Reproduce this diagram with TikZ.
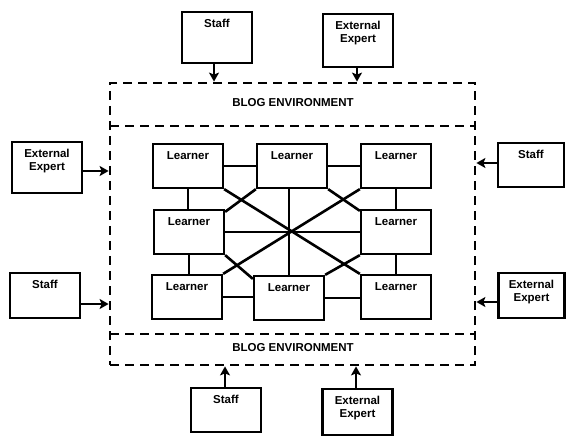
\documentclass[tikz,border=0pt]{standalone}
\usepackage{fontspec}
\setmainfont{Liberation Sans}
\usetikzlibrary{arrows.meta}
\tikzset{
  txt/.style={font=\fontsize{11.5}{13.5}\selectfont\bfseries, align=center, inner sep=0pt},
  actor/.style={draw, line width=2.2pt, rectangle, minimum width=70pt, minimum height=45pt, inner sep=0pt},
  learner/.style={draw, line width=2.3pt, rectangle, minimum width=70pt, minimum height=44pt, inner sep=0pt,
    label={[txt, anchor=north, yshift=-9pt]north:Learner}},
  inlbl/.style={txt, anchor=north, yshift=-8pt},
  link/.style={line width=2.6pt},
  feed/.style={line width=2.5pt, -{Stealth[length=9pt, width=10pt, inset=2pt]}},
  env/.style={draw, line width=2.8pt, dash pattern=on 9pt off 6pt},
}
\begin{document}
\begin{tikzpicture}[x=1pt, y=-1pt]
\useasboundingbox (0,0) rectangle (567,438);
% outer environment
\node[env, rectangle, minimum width=365pt, minimum height=282pt, inner sep=0pt] (outer) at (292.5,224) {};
\coordinate (tl) at (110,126); \coordinate (tr) at (475,126);
\coordinate (bl) at (110,334); \coordinate (br) at (475,334);
\draw[env] (tl) -- (tr);
\draw[env] (bl) -- (br);
\node[txt] (blogtop) at (293,103) {BLOG ENVIRONMENT};
\node[txt] (blogbot) at (293,348) {BLOG ENVIRONMENT};

% actors
\node[actor, minimum height=51pt] (tstaff) at (217,37.5) {};
\node[inlbl] (tstafft) at (tstaff.north) {Staff};
\node[actor, minimum height=53pt] (tee) at (358,40.5) {};
\node[inlbl] (teet) at (tee.north) {External\\Expert};
\node[actor, minimum height=51pt] (lee) at (47,167.5) {};
\node[inlbl] (leet) at (lee.north) {External\\Expert};
\node[actor] (lstaff) at (45,295.5) {};
\node[inlbl] (lstafft) at (lstaff.north) {Staff};
\node[actor, minimum width=66pt, minimum height=44pt] (rstaff) at (531,165) {};
\node[inlbl] (rstafft) at (rstaff.north) {Staff};
\node[actor, minimum width=66pt] (ree) at (531.5,295.5) {};
\node[inlbl] (reet) at (ree.north) {External\\Expert};
\node[actor, minimum height=44pt] (bstaff) at (226,410) {};
\node[inlbl] (bstafft) at (bstaff.north) {Staff};
\node[actor, minimum height=46pt] (bee) at (357.5,412) {};
\node[inlbl] (beet) at (bee.north) {External\\Expert};

% feeds
\coordinate (a1) at (214,63);  \draw[feed] (a1) -- (a1 |- outer.north);
\coordinate (a2) at (357,67);  \draw[feed] (a2) -- (a2 |- outer.north);
\coordinate (a3) at (82,171);  \draw[feed] (a3) -- (a3 -| outer.west);
\coordinate (a4) at (80,304);  \draw[feed] (a4) -- (a4 -| outer.west);
\coordinate (a5) at (498,163); \draw[feed] (a5) -- (a5 -| outer.east);
\coordinate (a6) at (498.5,302); \draw[feed] (a6) -- (a6 -| outer.east);
\coordinate (a7) at (225,388); \draw[feed] (a7) -- (a7 |- outer.south);
\coordinate (a8) at (356,389); \draw[feed] (a8) -- (a8 |- outer.south);

% learners
\node[learner] (l1) at (188,166) {};
\node[learner] (l2) at (292,166) {};
\node[learner] (l3) at (396,166) {};
\node[learner] (l4) at (189,232) {};
\node[learner] (l5) at (396,232) {};
\node[learner] (l6) at (187,297) {};
\node[learner] (l7) at (289,298) {};
\node[learner] (l8) at (396,297) {};

% links
\draw[link] (l1.east) -- (l2.west);
\draw[link] (l2.east) -- (l3.west);
\draw[link] (l1.south) -- (l1.south |- l4.north);
\draw[link] (l3.south) -- (l5.north);
\draw[link] (l6.north -| l4.south) -- (l4.south);
\draw[link] (l5.south) -- (l8.north);
\draw[link] (l6.east) -- (l6.east -| l7.west);
\draw[link] (l7.east -| l8.west) -- (l7.east);
\draw[link] (l4.east) -- (l5.west);
\draw[link] (l7.north |- l2.south) -- (l7.north);
\draw[link] (l1.south east) -- (l8.north west);
\draw[link] (l3.south west) -- (l6.north east);
\draw[link] (l2.south west) -- ([yshift=-3pt]l4.north east);
\draw[link] (l2.south east) -- ([yshift=-2pt]l5.north west);
\draw[link] (l4.south east) -- ([yshift=-4pt]l7.north west);
\draw[link] (l5.south west) -- (l7.north east);
\end{tikzpicture}
\end{document}
